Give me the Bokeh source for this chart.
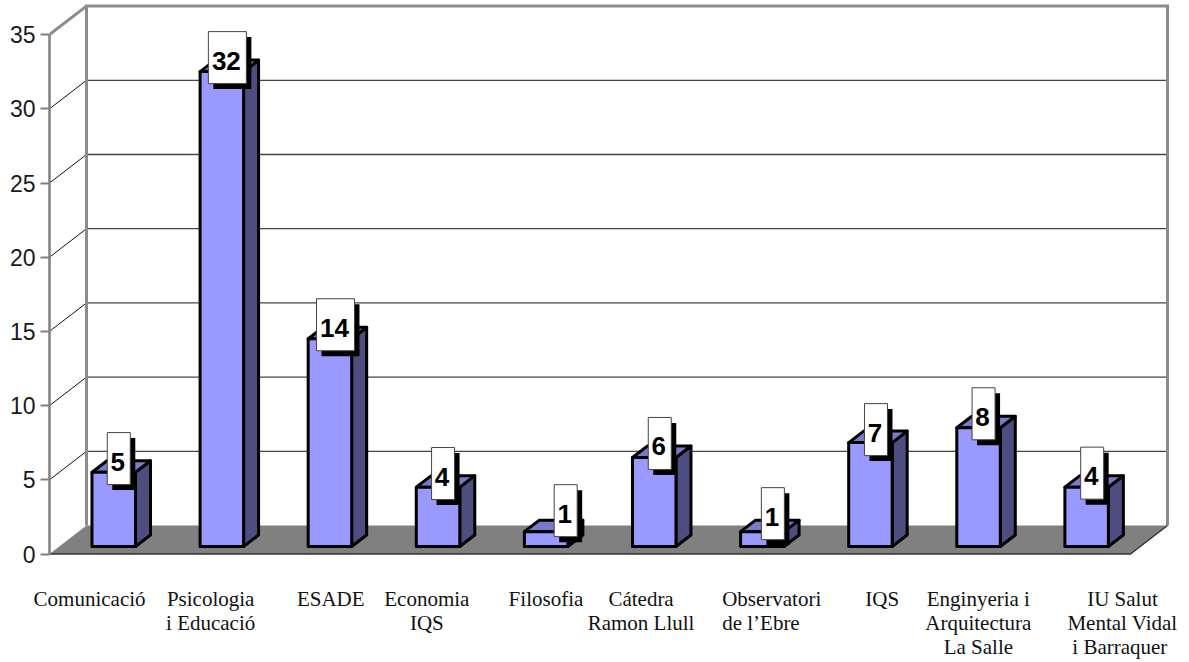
from bokeh.plotting import figure
from bokeh.models import FixedTicker, Range1d
from bokeh.core.properties import value
from bokeh.embed import file_html
from bokeh.resources import INLINE

# ---- data ----
categories = ["Comunicació", "Psicologia\ni Educació", "ESADE", "Economia\nIQS", "Filosofia",
              "Cátedra\nRamon Llull", "Observatori\nde l’Ebre", "IQS",
              "Enginyeria i\nArquitectura\nLa Salle", "IU Salut\nMental Vidal\ni  Barraquer"]
values = [5, 32, 14, 4, 1, 6, 1, 7, 8, 4]
value_ticks = [0, 5, 10, 15, 20, 25, 30, 35]

# ---- layout (pixels of the picture) ----
FIG_W, FIG_H = 1185, 660
LEFT = 49                     # axis panel
XS = 108.1                    # px per category
YS = 14.84                    # px per value unit
Y0_PX = 553.5                 # px of value 0 from figure top
DEPTH_X, DEPTH_Y = 37 / XS, 28.5 / YS
BAR_X0, BAR_W = 0.393, 43.5 / XS
BAR_BASE = 7.5 / YS
BAR_DX, BAR_DY = 15 / XS, 11.5 / YS
BOX_H = 52 / YS
SHADOW_X, SHADOW_Y = 5 / XS, 5.5 / YS
box_dx = [4.5, 5, 5, 4.5, 19, 5, 10, 5, 4.5, 5]
box_dy = [13.7, 14, 14, 13.6, 21, 14, 18, 13, 14, 14]
label_dx = [-14, -1, 11, -1, 10, -3, -30, 22, 10, 46]
label_align = ["center", "center", "center", "center", "center", "center", "left", "center", "center", "center"]

N = len(values)
p = figure(width=FIG_W, height=FIG_H, output_backend="svg", toolbar_location=None,
           x_range=Range1d(0, (FIG_W - LEFT) / XS),
           y_range=Range1d(-(FIG_H - Y0_PX) / YS, Y0_PX / YS),
           min_border_left=LEFT, min_border_right=0, min_border_top=0, min_border_bottom=0)
p.outline_line_color = None
p.grid.visible = False
p.xaxis.visible = False

ax = p.yaxis[0]
ax.ticker = FixedTicker(ticks=value_ticks)
ax.bounds = (0, 35)
ax.axis_line_color = "#808080"
ax.axis_line_width = 2.5
ax.major_tick_line_color = "#808080"
ax.major_tick_line_width = 2
ax.major_tick_out = 9
ax.major_tick_in = 0
ax.minor_tick_line_color = None
ax.major_label_standoff = 5
ax.major_label_text_font = "Liberation Sans"
ax.major_label_text_font_size = "23px"
ax.major_label_text_color = "#1a1a1a"

# back wall grid + side diagonals
for t in value_ticks[1:-1]:
    p.line([DEPTH_X, N + DEPTH_X], [t + DEPTH_Y] * 2, line_color="#444444", line_width=1.3)
    p.line([0, DEPTH_X], [t, t + DEPTH_Y], line_color="#111111", line_width=1)

# wall borders
p.line([0, DEPTH_X], [35, 35 + DEPTH_Y], line_color="#8c8c8c", line_width=3)
p.line([DEPTH_X, DEPTH_X, N + DEPTH_X, N + DEPTH_X],
       [DEPTH_Y, 35 + DEPTH_Y, 35 + DEPTH_Y, DEPTH_Y],
       line_color="#8c8c8c", line_width=3, line_join="miter")

# floor
p.patch([0, N, N + DEPTH_X, DEPTH_X], [0, 0, DEPTH_Y, DEPTH_Y],
        fill_color="#808080", line_color=None)
p.line([0, N, N + DEPTH_X], [0, 0, DEPTH_Y], line_color="#333333", line_width=1.5)

# bars
for i, v in enumerate(values):
    x0, x1 = i + BAR_X0, i + BAR_X0 + BAR_W
    y0, y1 = BAR_BASE, BAR_BASE + v
    p.patch([x1, x1 + BAR_DX, x1 + BAR_DX, x1], [y0, y0 + BAR_DY, y1 + BAR_DY, y1],
            fill_color="#4d4d80", line_color="black", line_width=3, line_join="round")
    p.patch([x0, x1, x1 + BAR_DX, x0 + BAR_DX], [y1, y1, y1 + BAR_DY, y1 + BAR_DY],
            fill_color="#7a7acc", line_color="black", line_width=3, line_join="round")
    p.quad(left=x0, right=x1, bottom=y0, top=y1,
           fill_color="#9999ff", line_color="black", line_width=3, line_join="round")

# value labels
for i, v in enumerate(values):
    cx = i + 0.398 + BAR_W / 2 + box_dx[i] / XS
    cy = BAR_BASE + v + box_dy[i] / YS
    w = (38 if v >= 10 else 23) / XS
    p.rect(cx + SHADOW_X, cy - SHADOW_Y, width=w, height=BOX_H, fill_color="black", line_color=None)
    p.rect(cx, cy, width=w, height=BOX_H, fill_color="white", line_color="#444444", line_width=1)
    p.text([cx], [cy], text=[str(v)], x_offset=-1, y_offset=3, text_font=value("Liberation Sans"),
           text_font_style="bold", text_font_size="26px", text_align="center", text_baseline="middle",
           text_color="black")

# category labels
for i, c in enumerate(categories):
    p.text([i + 0.5], [-33 / YS], text=[c], x_offset=label_dx[i], text_font=value("Liberation Serif"),
           text_font_size="21px", text_align=label_align[i], text_baseline="top",
           text_color="#111111", text_line_height=1.0, level="overlay")

open("out.html", "w").write(file_html(p, INLINE))
